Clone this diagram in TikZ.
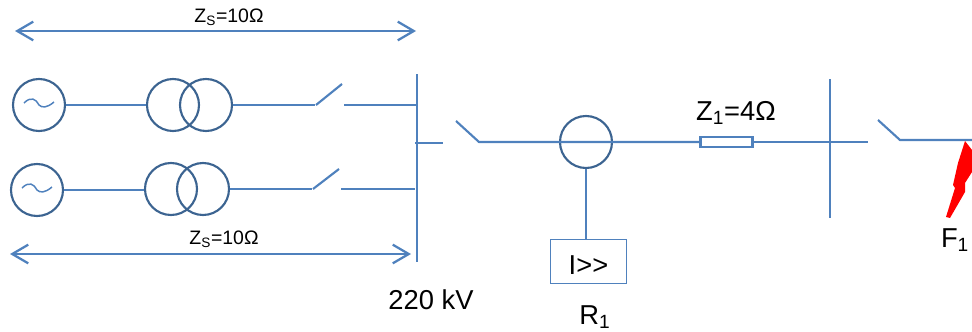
\documentclass[tikz,border=0pt]{standalone}
\usepackage{fontspec}
\usetikzlibrary{arrows.meta}
\setmainfont{Liberation Sans}
\definecolor{wire}{RGB}{79,129,189}
\definecolor{ring}{RGB}{60,100,145}
\newcommand{\subsize}[1]{\textsubscript{#1}}

\begin{document}
\begin{tikzpicture}[x=0.75pt, y=-0.75pt, line width=1.6pt,
    nodes = {font=\fontsize{20.5}{24}\selectfont, inner sep=0pt},
    machine/.style={circle, draw=ring, line width=1.6pt, minimum size=39pt},
    wire/.style={draw=wire},
    span/.style={draw=wire, line width=1.7pt, {Straight Barb[length=12pt,width=14pt]}-{Straight Barb[length=12pt,width=14pt]}}]
  \useasboundingbox (0,0) rectangle (972,332);

  % Sources, transformers and breakers of both bays
  \foreach \name/\genx/\geny/\txa/\txb/\txy/\tipy in {
      a/39/105/173/206/105/84,
      b/37/190/171/203/189/169
    } {
      \node[machine] (gen\name) at (\genx,\geny) {};
      \node[machine] (tx\name a) at (\txa,\txy) {};
      \node[machine] (tx\name b) at (\txb,\txy) {};
      \draw[wire, line width=1.1pt] (\genx-15,\geny-2) .. controls (\genx-8,\geny-9) and (\genx-3,\geny-6) .. (\genx,\geny)
        .. controls (\genx+3,\geny+3) and (\genx+8,\geny+3) .. (\genx+15,\geny-3);
      \draw[wire] (gen\name.east) -- (gen\name.east -| tx\name a.west);
      \coordinate (brk\name) at (\txb+109,\txy);
      \coordinate (hng\name) at (\txb+110,\txy);
      \coordinate (tip\name) at (\txb+136,\tipy);
      \coordinate (bay\name) at (\txb+138,\txy);
      \draw[wire] (tx\name b.east) -- (brk\name);
      \draw[wire] (hng\name) -- (tip\name);
    };
  \coordinate (busatop) at (417,74);
  \coordinate (busabot) at (417,262);
  \coordinate (busaa) at (417,105);
  \coordinate (busab) at (415,189);
  \draw[wire] (busatop) -- (busabot);
  \draw[wire] (baya) -- (busaa);
  \draw[wire] (bayb) -- (busab);

  % Feeder with current transformer and line impedance
  \node[machine] (ct) at (586,142) {};
  \node[draw=wire, line width=1.6pt, minimum width=39pt, minimum height=8pt] (zline) at (726.5,142) {};
  \node[draw=wire, line width=1pt, minimum width=57pt, minimum height=33pt] (relay) at (588.5,261.5) {\raisebox{-4pt}[11pt][0pt]{I>{}>}};
  \coordinate (stubc) at (415,143);
  \coordinate (stub) at (443,143);
  \coordinate (brkc) at (479,142);
  \coordinate (tipc) at (456,121);
  \coordinate (stubd) at (868,142);
  \draw[wire] (stubc) -- (stub);
  \draw[wire] (tipc) -- (brkc) -- (ct.west) -- (ct.east) -- (zline.west);
  \draw[wire] (ct.south) -- (ct.south |- relay.north);
  \draw[wire] (zline.east) -- (stubd);

  % Remote busbar and faulted line
  \coordinate (busbtop) at (830,79);
  \coordinate (busbbot) at (830,218);
  \coordinate (brkd) at (900,140);
  \coordinate (tipd) at (878,120);
  \coordinate (lineend) at (972,140);
  \draw[wire] (busbtop) -- (busbbot);
  \draw[wire] (tipd) -- (brkd) -- (lineend);
  \fill[red] (965,141) -- (972,150) -- (972,172) -- (965,183) -- (965,192) -- (950,218) -- (946,217)
    -- (955,188) -- (953,185) -- (958,163) -- cycle;

  % Ratings
  \coordinate (spanal) at (15,31);
  \coordinate (spanar) at (416,31);
  \coordinate (spanbl) at (10,254);
  \coordinate (spanbr) at (411,254);
  \draw[span] (spanal) -- (spanar);
  \draw[span] (spanbl) -- (spanbr);
  \node[font=\fontsize{14.6}{17}\selectfont] (zsa) at (229,17) {Z\subsize{S}=10Ω};
  \node[font=\fontsize{14.6}{17}\selectfont] (zsb) at (224,239) {Z\subsize{S}=10Ω};
  \node (zone) at (736,113) {Z\subsize{1}=4Ω};
  \node (volt) at (431,300) {220 kV};
  \node (rone) at (595,317) {R\subsize{1}};
  \node (fone) at (955,240) {F\subsize{1}};
\end{tikzpicture}
\end{document}
